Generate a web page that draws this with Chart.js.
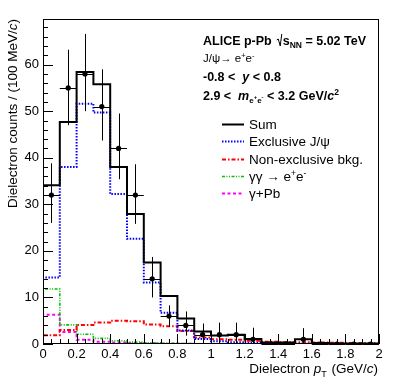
<!DOCTYPE html>
<html lang="en">
<head>
<meta charset="UTF-8">
<title>Dielectron pT</title>
<script src="https://cdn.jsdelivr.net/npm/chart.js"></script>
<style>
  body { margin: 0; background: #fff; }
  canvas { display: block; }
</style>
</head>
<body>
<canvas id="ptChart" width="399" height="386"></canvas>
<script>
// bins of 100 MeV/c
const binEdges = [0, 0.1, 0.2, 0.3, 0.4, 0.5, 0.6, 0.7, 0.8, 0.9, 1.0,
                  1.1, 1.2, 1.3, 1.4, 1.5, 1.6, 1.7, 1.8, 1.9, 2.0];
const binCenters = [0.05, 0.15, 0.25, 0.35, 0.45, 0.55, 0.65, 0.75, 0.85, 0.95,
                    1.05, 1.15, 1.25, 1.35, 1.45, 1.55, 1.65, 1.75, 1.85, 1.95];

// templates
const sumCounts     = [34.1, 47.7, 58.4, 55.8, 38.0, 27.9, 17.5, 10.3, 5.5, 2.7, 1.8, 2.0, 1.1, 0.3, 0.3, 1.0, 0.2, 0.1, 0.1, 0.1];
const exclCounts    = [14.3, 38.0, 51.6, 49.7, 32.2, 22.6, 13.2, 6.7, 2.9, 1.1, 0.6, 0.4, 0.25, 0.15, 0.1, 0.05, 0.05, 0.03, 0.02, 0.01];
const nonExclCounts = [1.9, 3.0, 4.1, 4.6, 5.0, 4.9, 4.2, 3.8, 2.8, 1.4, 1.0, 0.9, 0.7, 0.5, 0.4, 0.35, 0.3, 0.25, 0.2, 0.2];
const ggCounts      = [11.8, 4.1, 2.1, 1.2, 0.7, 0.4, 0.25, 0.15, 0.1, 0.05, 0.04, 0.03, 0.02, 0.02, 0.01, 0.01, 0.01, 0, 0, 0];
const gPbCounts     = [6.3, 2.6, 0.9, 0.5, 0.3, 0.2, 0.1, 0.05, 0.03, 0.02, 0.01, 0, 0, 0, 0, 0, 0, 0, 0, 0];

// data points
const dataCounts  = [32, 55, 58, 51, 42, 32, 14, 6, 4, 2, 2, 2, 1, 0, 0, 1, 0, 0, 0, 0];
const dataErrLow  = [6.0, 8.0, 8.0, 7.3, 6.6, 6.2, 4.0, 2.3, 2.2, 2.0, 2.0, 2.0, 1.0, 0, 0, 1.0, 0, 0, 0, 0];
const dataErrHigh = [6.8, 8.2, 8.6, 8.0, 7.5, 6.6, 4.7, 2.3, 3.0, 2.4, 2.6, 2.6, 2.5, 0, 0, 2.4, 0, 0, 0, 0];

const xTickValues = [0, 0.2, 0.4, 0.6, 0.8, 1, 1.2, 1.4, 1.6, 1.8, 2];
const yTickValues = [0, 10, 20, 30, 40, 50, 60];

const FONT = '"Liberation Sans", Arial, sans-serif';

function histPoints(vals) {
    const pts = [{x: binEdges[0], y: 0}];
    vals.forEach((v, i) => pts.push({x: binEdges[i], y: v}));
    const last = binEdges[binEdges.length - 1];
    pts.push({x: last, y: vals[vals.length - 1]});
    pts.push({x: last, y: 0});
    return pts;
}

function histSet(label, vals, color, width, dash) {
    return {
        label: label,
        data: histPoints(vals),
        borderColor: color,
        borderWidth: width,
        borderDash: dash,
        stepped: 'before',
        pointRadius: 0,
        fill: false
    };
}

// draw a row of text pieces with different fonts / offsets
function drawRuns(ctx, x, y, runs, align) {
    let w = 0;
    runs.forEach(r => {
        ctx.font = r.font;
        r.w = ctx.measureText(r.t).width;
        w += r.w + (r.gap || 0);
    });
    let cx = align === 'right' ? x - w : x;
    runs.forEach(r => {
        ctx.font = r.font;
        ctx.fillText(r.t, cx, y + (r.dy || 0));
        cx += r.w + (r.gap || 0);
    });
    return cx;
}

const reg = s => `${s}px ${FONT}`;
const bold = s => `bold ${s}px ${FONT}`;
const boldIt = s => `italic bold ${s}px ${FONT}`;
const it = s => `italic ${s}px ${FONT}`;

const legendItems = [
    {label: 'Sum', color: '#000', width: 2, dash: []},
    {label: 'Exclusive J/\u03c8', color: '#0000ff', width: 2, dash: [1.5, 1.5]},
    {label: 'Non-exclusive bkg.', color: '#ff0000', width: 2, dash: [4, 2, 1.5, 2]},
    {label: 'gg', color: '#00c000', width: 1.6, dash: [3, 1.5, 1, 1.5, 1, 1.5]},
    {label: '\u03b3+Pb', color: '#ff00ff', width: 2, dash: [3, 2.5]}
];

const rootStyle = {
    id: 'rootStyle',
    afterDatasetsDraw(chart) {
        const {ctx, scales: {x, y}} = chart;
        ctx.save();
        ctx.strokeStyle = '#000';
        ctx.lineWidth = 1;
        dataCounts.forEach((v, i) => {
            const px = Math.round(x.getPixelForValue(binCenters[i])) + 0.5;
            const py = Math.round(y.getPixelForValue(v)) + 0.5;
            ctx.beginPath();
            if (dataErrLow[i] > 0 || dataErrHigh[i] > 0) {
                ctx.moveTo(px, y.getPixelForValue(v - dataErrLow[i]));
                ctx.lineTo(px, y.getPixelForValue(v + dataErrHigh[i]));
            }
            ctx.moveTo(x.getPixelForValue(binEdges[i]), py);
            ctx.lineTo(x.getPixelForValue(binEdges[i + 1]), py);
            ctx.stroke();
        });
        ctx.restore();
    },
    afterDraw(chart) {
        const {ctx, chartArea: a, scales: {x, y}} = chart;
        ctx.save();
        ctx.strokeStyle = '#000';
        ctx.fillStyle = '#000';

        // frame
        ctx.lineWidth = 1;
        ctx.strokeRect(a.left + 0.5, a.top + 0.5, a.right - a.left - 1, a.bottom - a.top - 1);

        // inward ticks
        ctx.beginPath();
        for (let k = 0; k <= 34; k++) {
            const py = Math.round(y.getPixelForValue(k * 2)) + 0.5;
            const len = k % 5 === 0 ? 10 : 5;
            ctx.moveTo(a.left, py);
            ctx.lineTo(a.left + len, py);
        }
        for (let k = 0; k <= 40; k++) {
            const px = Math.round(x.getPixelForValue(k * 0.05)) + 0.5;
            const len = k % 4 === 0 ? 10 : 5;
            ctx.moveTo(px, a.bottom);
            ctx.lineTo(px, a.bottom - len);
        }
        ctx.stroke();

        // axis titles
        ctx.textAlign = 'left';
        ctx.textBaseline = 'alphabetic';
        drawRuns(ctx, a.right - 1, 373, [
            {t: 'Dielectron ', font: reg(13.5)},
            {t: 'p', font: it(13.5)},
            {t: 'T', font: reg(9), dy: 4, gap: 1},
            {t: ' (GeV/', font: reg(13.5)},
            {t: 'c', font: it(13.5)},
            {t: ')', font: reg(13.5)}
        ], 'right');

        ctx.save();
        ctx.translate(16.5, a.top);
        ctx.rotate(-Math.PI / 2);
        drawRuns(ctx, 0, 0, [
            {t: 'Dielectron counts / (100 MeV/', font: reg(13.5)},
            {t: 'c', font: it(13.5)},
            {t: ')', font: reg(13.5)}
        ], 'right');
        ctx.restore();

        // header text
        const tx = 203;
        let cx = drawRuns(ctx, tx, 45, [{t: 'ALICE p-Pb', font: bold(12.5)}]);
        cx += 5;
        ctx.lineWidth = 1;
        ctx.beginPath();
        ctx.moveTo(cx, 40);
        ctx.lineTo(cx + 1.5, 39);
        ctx.lineTo(cx + 3.5, 46);
        ctx.lineTo(cx + 5, 34);
        ctx.stroke();
        cx += 6;
        drawRuns(ctx, cx, 45, [
            {t: 's', font: bold(12.5)},
            {t: 'NN', font: bold(8.5), dy: 3},
            {t: ' = 5.02 TeV', font: bold(12.5)}
        ]);

        drawRuns(ctx, tx, 62, [
            {t: 'J/\u03c8\u2192 e', font: reg(11.5)},
            {t: '+', font: reg(7.5), dy: -4},
            {t: 'e', font: reg(11.5)},
            {t: '-', font: reg(7.5), dy: -4}
        ]);
        drawRuns(ctx, tx, 81, [
            {t: '-0.8 <  ', font: bold(12.5)},
            {t: 'y', font: boldIt(12.5)},
            {t: ' < 0.8', font: bold(12.5)}
        ]);
        drawRuns(ctx, tx, 100, [
            {t: '2.9 <  ', font: bold(12.5)},
            {t: 'm', font: boldIt(12.5)},
            {t: 'e', font: bold(8), dy: 3},
            {t: '+', font: bold(6), dy: -1},
            {t: 'e', font: bold(8), dy: 3},
            {t: '-', font: bold(6), dy: -1},
            {t: ' < 3.2 GeV/', font: bold(12.5)},
            {t: 'c', font: boldIt(12.5)},
            {t: '2', font: bold(8.5), dy: -5}
        ]);

        // legend
        legendItems.forEach((item, i) => {
            const ly = 124 + i * 17.3;
            ctx.save();
            ctx.strokeStyle = item.color;
            ctx.lineWidth = item.width;
            ctx.setLineDash(item.dash);
            ctx.beginPath();
            ctx.moveTo(222, Math.round(ly) + 0.5);
            ctx.lineTo(244, Math.round(ly) + 0.5);
            ctx.stroke();
            ctx.restore();
            const by = ly + 5;
            if (item.label === 'gg') {
                drawRuns(ctx, 249, by, [
                    {t: '\u03b3\u03b3 \u2192 e', font: reg(13.5)},
                    {t: '+', font: reg(8.5), dy: -5},
                    {t: 'e', font: reg(13.5)},
                    {t: '-', font: reg(8.5), dy: -5}
                ]);
            } else {
                drawRuns(ctx, 249, by, [{t: item.label, font: reg(13.5)}]);
            }
        });
        ctx.restore();
    }
};

new Chart(document.getElementById('ptChart'), {
    type: 'line',
    data: {
        datasets: [
            {
                label: 'Data',
                data: dataCounts.map((v, i) => ({x: binCenters[i], y: v})),
                showLine: false,
                pointRadius: 2.6,
                pointBackgroundColor: '#000',
                pointBorderColor: '#000',
                pointBorderWidth: 0
            },
            histSet('Sum', sumCounts, '#000', 2, []),
            histSet('Exclusive J/psi', exclCounts, '#0000ff', 2, [1.5, 1.5]),
            histSet('Non-exclusive bkg.', nonExclCounts, '#ff0000', 2, [4, 2, 1.5, 2]),
            histSet('gamma gamma', ggCounts, '#00c000', 1.6, [3, 1.5, 1, 1.5, 1, 1.5]),
            histSet('gamma+Pb', gPbCounts, '#ff00ff', 2, [3, 2.5])
        ]
    },
    options: {
        responsive: false,
        animation: false,
        devicePixelRatio: 1,
        layout: { padding: { top: 19, right: 20, left: 0, bottom: 0 } },
        plugins: { legend: { display: false }, tooltip: { enabled: false } },
        scales: {
            x: {
                type: 'linear',
                min: 0,
                max: 2,
                grid: { display: false, drawTicks: false },
                border: { display: false },
                afterBuildTicks: s => { s.ticks = xTickValues.map(v => ({value: v})); },
                afterFit: s => { s.height = 42; },
                ticks: {
                    color: '#000',
                    padding: 3,
                    maxRotation: 0,
                    autoSkip: false,
                    font: { family: FONT, size: 13 },
                    callback: v => String(+v.toFixed(1))
                }
            },
            y: {
                min: 0,
                max: 69.8,
                grid: { display: false, drawTicks: false },
                border: { display: false },
                afterBuildTicks: s => { s.ticks = yTickValues.map(v => ({value: v})); },
                afterFit: s => { s.width = 43; },
                ticks: {
                    color: '#000',
                    padding: 4,
                    font: { family: FONT, size: 13 },
                    callback: v => String(v)
                }
            }
        }
    },
    plugins: [rootStyle]
});
</script>
</body>
</html>
